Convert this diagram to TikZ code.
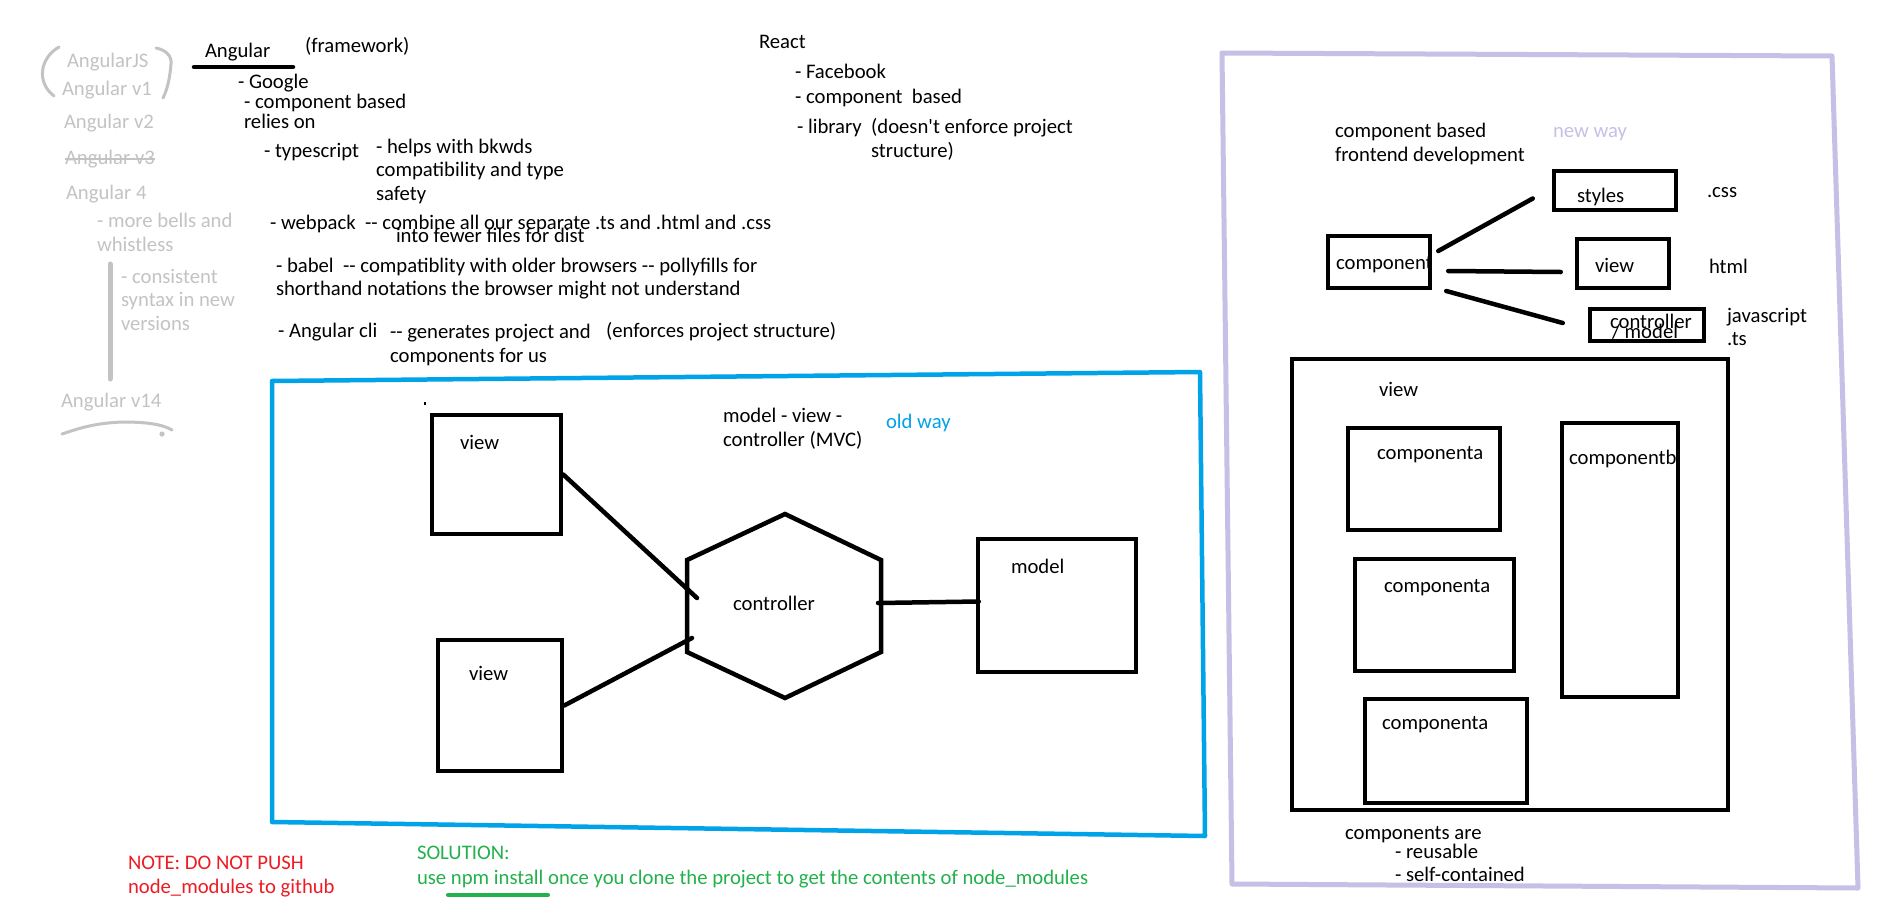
\documentclass[tikz,border=0pt]{standalone}
\usepackage{fontspec}
\setmainfont{Carlito}[Ligatures=TeXOff]
\usetikzlibrary{calc}
\definecolor{paintblue}{HTML}{00A2E8}
\definecolor{lavender}{HTML}{C8BFE7}
\definecolor{ghost}{HTML}{C3C3C3}
\definecolor{paintred}{HTML}{ED1C24}
\definecolor{paintgreen}{HTML}{22B14C}
\begin{document}
\begin{tikzpicture}[x=1pt,y=-1pt,
  txt/.style={anchor=base west, inner sep=0pt, outer sep=0pt, font=\fontsize{20.7}{24}\selectfont, text=black},
  gtxt/.style={txt, text=ghost},
  btxt/.style={txt, text=paintblue},
  ltxt/.style={txt, text=lavender},
  rtxt/.style={txt, text=paintred},
  grtxt/.style={txt, text=paintgreen},
  frame/.style={draw=black, line width=4.5pt, inner sep=0pt, fill=none},
  conn/.style={draw=black, line width=4.5pt, line cap=round},
  gstroke/.style={draw=ghost, line width=3pt, line cap=round, line join=round},
]
\useasboundingbox[fill=white] (0,0) rectangle (1887,918);

% ---------- grey version list ----------
\node[gtxt] (ajs) at (67,67) {AngularJS};
\node[gtxt] (av1) at (62,95) {Angular v1};
\draw[gstroke] (59,47) .. controls (40,58) and (36,82) .. (54,96);
\draw[gstroke] (156,48) .. controls (166,50) and (172,56) .. (171,64)
               .. controls (170,76) and (168,88) .. (163,98);
\node[gtxt] (av2) at (64,128) {Angular v2};
\node[gtxt] (av3) at (65,164) {Angular v3};
\draw[draw=ghost, line width=1.3pt] ($(av3.base west)+(0,-5)$) -- ($(av3.base east)+(0,-5)$);
\node[gtxt] (a4) at (66,199) {Angular 4};
\node[gtxt] (bells1) at (97,227) {- more bells and};
\node[gtxt] (bells2) at (97,251) {whistless};
\draw[draw=ghost, line width=5pt, line cap=round] (110,264) -- (110,379);
\node[gtxt] (cons1) at (121,283) {- consistent};
\node[gtxt] (cons2) at (121,306) {syntax in new};
\node[gtxt] (cons3) at (121,330) {versions};
\node[gtxt] (av14) at (61,407) {Angular v14};
\draw[gstroke] (62,434) .. controls (80,428) and (95,423) .. (123,422)
               .. controls (145,422) and (162,424) .. (172,430);
\fill[ghost] (162,434) circle (2.6);

% ---------- Angular notes ----------
\node[txt] (ang) at (205,57) {Angular};
\draw[conn] (194,67) -- (293,67);
\node[txt] (fw) at (305,52) {(framework)};
\node[txt] (goog) at (238,88) {- Google};
\node[txt] (cbased) at (244,108) {- component based};
\node[txt] (relies) at (244,128) {relies on};
\node[txt] (ts) at (264,157) {- typescript};
\node[txt] (ts1) at (376,153) {- helps with bkwds};
\node[txt] (ts2) at (376,176) {compatibility and type};
\node[txt] (ts3) at (376,200) {safety};
\node[txt] (wp1) at (270,229) {- webpack\ \ -{}- combine all our separate .ts and .html and .css};
\node[txt] (wp2) at (396,242) {into fewer files for dist};
\node[txt] (bb1) at (276,272) {- babel\ \ -{}- compatiblity with older browsers -{}- pollyfills for};
\node[txt] (bb2) at (276,295) {shorthand notations the browser might not understand};
\node[txt] (cli) at (278,337) {- Angular cli};
\node[txt] (cli1) at (390,338) {-{}- generates project and};
\node[txt] (cli2) at (390,362) {components for us};
\node[txt] (cli3) at (606,337) {(enforces project structure)};

% ---------- React notes ----------
\node[txt] (react) at (759,48) {React};
\node[txt] (fb) at (795,78) {- Facebook};
\node[txt] (rcb) at (795,103) {- component\ \ based};
\node[txt] (lib1) at (797,133) {- library\ \ (doesn't enforce project};
\node[txt] (lib2) at (871,157) {structure)};

% ---------- MVC (old way) ----------
\draw[draw=paintblue, line width=4.5pt, line join=round] (272,381) -- (1200,372) -- (1205,836) -- (272,822) -- cycle;
\draw[line width=1.5pt] (425,402) -- (425,405);
\node[frame, minimum width=129, minimum height=119] (view1) at (496.5,474.5) {};
\node[txt] (view1t) at (460,449) {view};
\node[frame, minimum width=124, minimum height=131] (view2) at (500,705.5) {};
\node[txt] (view2t) at (469,680) {view};
\node[frame, minimum width=158, minimum height=133] (model) at (1057,605.5) {};
\node[txt] (modelt) at (1011,573) {model};
\coordinate (h1) at (785,514);
\coordinate (h2) at (881,560);
\coordinate (h3) at (881,652);
\coordinate (h4) at (785,698);
\coordinate (h5) at (687,652);
\coordinate (h6) at (687,560);
\draw[line width=4.5pt, line join=miter] (h1) -- (h2) -- (h3) -- (h4) -- (h5) -- (h6) -- cycle;
\node[txt] (ctrl) at (733,610) {controller};
\coordinate (c1) at (697,598);
\coordinate (c2) at (692,638);
\coordinate (c3) at (878,603);
\draw[conn] (view1.east) -- (c1);
\draw[conn] (view2.east) -- (c2);
\draw[conn] (c3) -- ($(model.west)+(3,-4)$);
\node[txt] (mvc1) at (723,422) {model - view -};
\node[txt] (mvc2) at (723,446) {controller (MVC)};
\node[btxt] (old) at (886,428) {old way};

% ---------- Component based (new way) ----------
\draw[draw=lavender, line width=5pt, line join=round] (1222,53) -- (1832,56) -- (1858,888) -- (1232,884) -- cycle;
\node[txt] (cbf1) at (1335,137) {component based};
\node[txt] (cbf2) at (1335,161) {frontend development};
\node[ltxt] (new) at (1553,137) {new way};
\node[frame, minimum width=122, minimum height=39] (styles) at (1615,190.5) {};
\node[txt] (stylest) at (1577,202) {styles};
\node[txt] (css) at (1707,197) {.css};
\node[frame, minimum width=102, minimum height=52] (comp) at (1379,262) {};
\node[txt] (compt) at (1336,269) {component};
\node[frame, minimum width=92, minimum height=49] (rview) at (1623,263.5) {};
\node[txt] (rviewt) at (1595,272) {view};
\node[txt] (html) at (1709,273) {html};
\node[frame, minimum width=114, minimum height=32] (cm) at (1647,325) {};
\node[txt] (cmt1) at (1610,328) {controller};
\node[txt] (cmt2) at (1612,338) {/ model};
\node[txt] (js) at (1727,322) {javascript};
\node[txt] (tsx) at (1727,345) {.ts};
\draw[conn] ($(comp.east)+(6,-11)$) -- ($(styles.west)+(-19,8)$);
\draw[conn] ($(comp.east)+(16,9)$) -- ($(rview.west)+(-14,8.5)$);
\draw[conn] ($(comp.east)+(14,29)$) -- ($(cm.west)+(-25,-2)$);

\node[frame, minimum width=436, minimum height=451] (bigview) at (1510,584.5) {};
\node[txt] (bigviewt) at (1379,396) {view};
\node[frame, minimum width=152, minimum height=102] (ca1) at (1424,479) {};
\node[txt] (ca1t) at (1377,459) {componenta};
\node[frame, minimum width=159, minimum height=112] (ca2) at (1434.5,615) {};
\node[txt] (ca2t) at (1384,592) {componenta};
\node[frame, minimum width=162, minimum height=104] (ca3) at (1446,751) {};
\node[txt] (ca3t) at (1382,729) {componenta};
\node[frame, minimum width=116, minimum height=274] (cb) at (1620,560) {};
\node[txt] (cbt) at (1569,464) {componentb};
\node[txt] (are) at (1345,839) {components are};
\node[txt] (reuse) at (1395,858) {- reusable};
\node[txt] (self) at (1395,881) {- self-contained};

% ---------- bottom notes ----------
\node[rtxt] (note1) at (128,869) {NOTE: DO NOT PUSH};
\node[rtxt] (note2) at (128,893) {node\_modules to github};
\node[grtxt] (sol1) at (417,859) {SOLUTION:};
\node[grtxt] (sol2) at (417,884) {use npm install once you clone the project to get the contents of node\_modules};
\draw[draw=paintgreen, line width=4pt, line cap=round] (448,895) -- (548,895);
\end{tikzpicture}
\end{document}
